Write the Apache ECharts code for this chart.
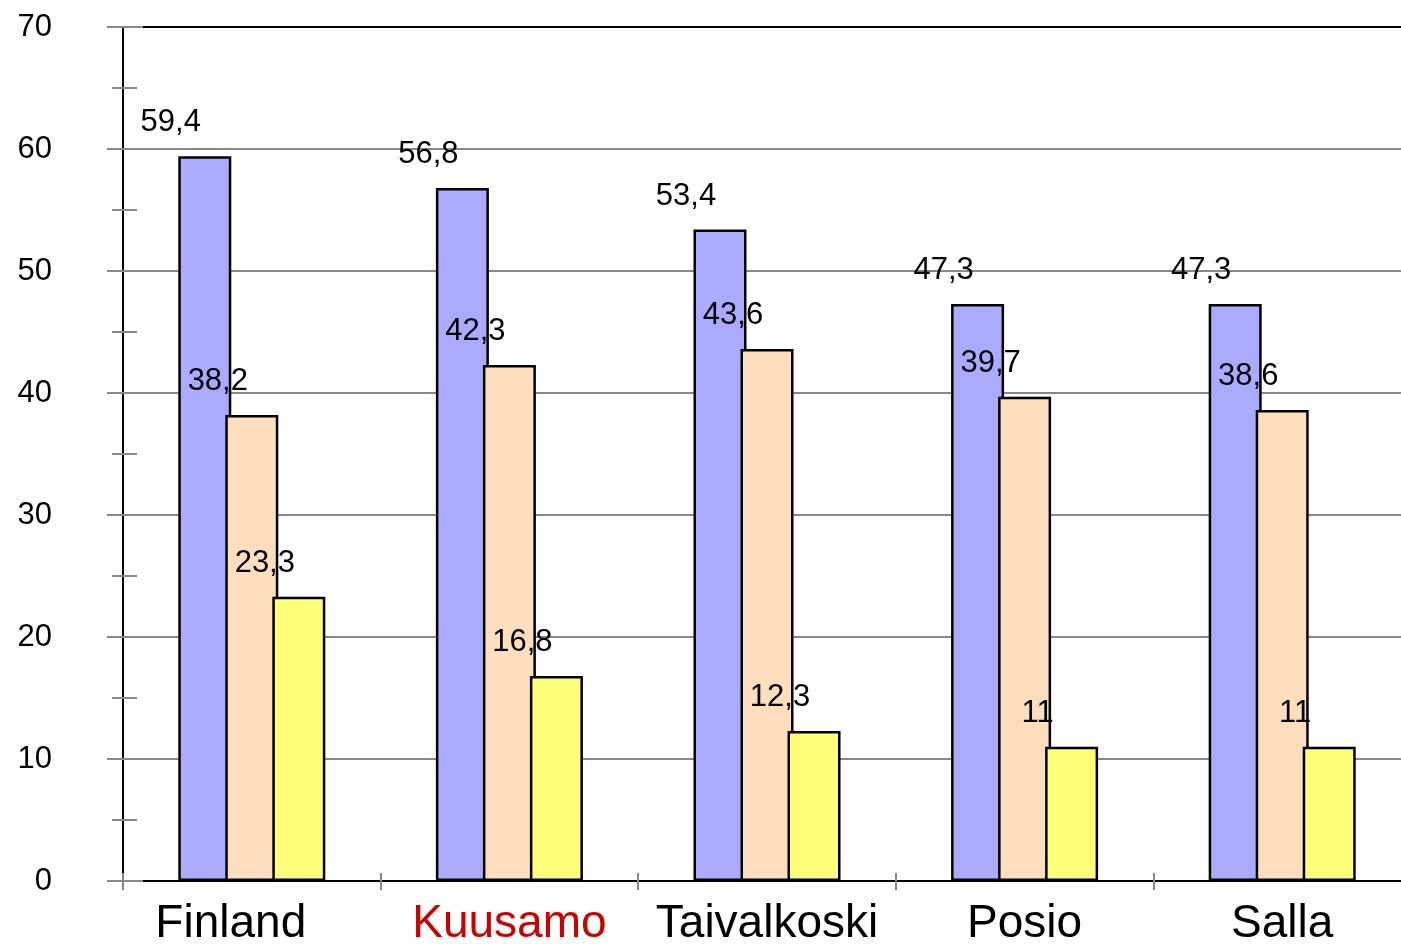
<!DOCTYPE html>
<html>
<head>
<meta charset="utf-8">
<script src="https://cdn.jsdelivr.net/npm/echarts@6/dist/echarts.min.js"></script>
<style>
  html, body { margin: 0; padding: 0; background: #fff; }
  #chart { width: 1401px; height: 944px; }
</style>
</head>
<body>
<div id="chart"></div>
<script>
// data
var categories = ['Finland', 'Kuusamo', 'Taivalkoski', 'Posio', 'Salla'];
var seriesA = [59.4, 56.8, 53.4, 47.3, 47.3];
var seriesB = [38.2, 42.3, 43.6, 39.7, 38.6];
var seriesC = [23.3, 16.8, 12.3, 11, 11];
var colors = ['#AAAAFF', '#FFDEBE', '#FFFF7A'];

var myChart = echarts.init(document.getElementById('chart'));

var barLabel = {
    show: true,
    position: 'top',
    distance: 5,
    offset: [-34, -13],
    fontFamily: 'Liberation Sans',
    fontSize: 31,
    color: '#000',
    formatter: function (p) {
        return String(p.value).replace('.', ',');
    },
};

function makeSeries(data, color) {
    return {
        type: 'bar',
        data: data,
        barWidth: 53,
        barGap: '-11.3%',
        itemStyle: { color: color, borderColor: '#000', borderWidth: 2.5 },
        label: barLabel,
        emphasis: { disabled: true },
    };
}

// category labels: Kuusamo highlighted red, Finland sits a bit left
var categoryItems = categories.map(function (name) {
    var ts = {};
    if (name === 'Kuusamo') ts.color = '#CC0000';
    if (name === 'Finland') ts.padding = [0, 42, 0, 0];
    return { value: name, textStyle: ts };
});

// grid lines grey, top one (70) black
var splitColors = ['#888', '#888', '#888', '#888', '#888', '#888', '#888', '#000'];

var option = {
    animation: false,
    grid: { left: 123, top: 27, height: 854, width: 1288, outerBoundsMode: 'none' },
    xAxis: [
        {
            type: 'category',
            data: categoryItems,
            axisLine: { lineStyle: { color: '#000', width: 2 } },
            axisTick: { show: true, length: 9, lineStyle: { color: '#888', width: 2 } },
            axisLabel: {
                interval: 0,
                margin: 20,
                fontFamily: 'Liberation Sans',
                fontSize: 46,
                color: '#000',
            },
        },
        {
            type: 'category',
            data: categories,
            position: 'bottom',
            axisLine: { show: false },
            axisTick: { show: true, inside: true, length: 8, lineStyle: { color: '#888', width: 2 } },
            axisLabel: { show: false },
        },
    ],
    yAxis: [
        {
            type: 'value',
            min: 0,
            max: 70,
            interval: 10,
            axisLine: { show: true, lineStyle: { color: '#000', width: 2 } },
            axisTick: { show: true, length: 16, lineStyle: { color: '#888', width: 2 } },
            minorTick: { show: true, splitNumber: 2, length: 11, lineStyle: { color: '#888', width: 2 } },
            axisLabel: {
                margin: 71,
                fontFamily: 'Liberation Sans',
                fontSize: 31,
                color: '#000',
                align: 'right',
                padding: [0, 0, 10, 0],
            },
            splitLine: { show: true, lineStyle: { color: splitColors, width: 2 } },
        },
        {
            type: 'value',
            min: 0,
            max: 70,
            interval: 10,
            position: 'left',
            axisLine: { show: false },
            axisTick: { show: true, inside: true, length: 20, lineStyle: { color: '#888', width: 2 } },
            minorTick: { show: true, splitNumber: 2, length: 14, lineStyle: { color: '#888', width: 2 } },
            axisLabel: { show: false },
            splitLine: { show: false },
        },
    ],
    series: [
        makeSeries(seriesA, colors[0]),
        makeSeries(seriesB, colors[1]),
        makeSeries(seriesC, colors[2]),
    ],
};

myChart.setOption(option);
window.addEventListener('resize', () => {
    myChart.resize();
});
</script>
</body>
</html>
